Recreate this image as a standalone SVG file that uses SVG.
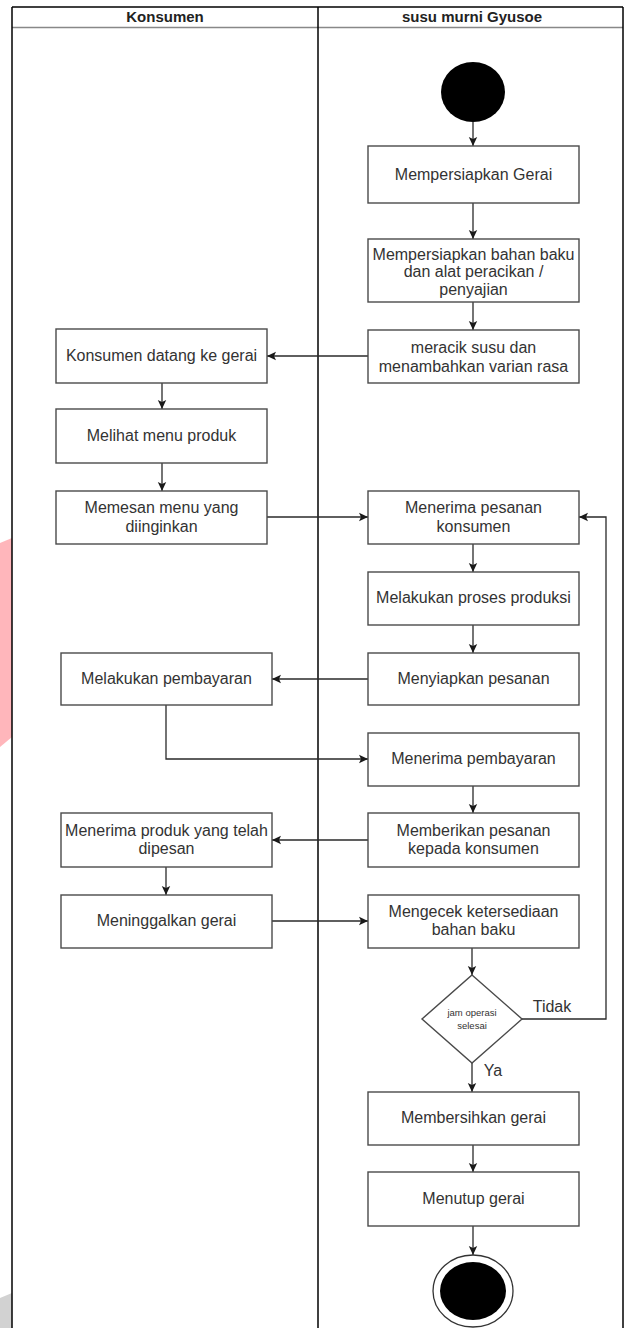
<svg xmlns="http://www.w3.org/2000/svg" width="629" height="1328" viewBox="0 0 629 1328">
<defs>
<style>
.box{fill:#fff;stroke:#4a4a4a;stroke-width:1.4}
.t{font-family:"Liberation Sans",Arial,sans-serif;font-size:16px;fill:#333;text-anchor:middle}
.h{font-family:"Liberation Sans",Arial,sans-serif;font-size:15px;font-weight:bold;fill:#222;text-anchor:middle}
.c{fill:none;stroke:#2a2a2a;stroke-width:1.3}
.lane{fill:none;stroke:#000;stroke-width:1.5}
</style>
<marker id="ah" markerWidth="10" markerHeight="10" refX="9" refY="5" orient="auto" markerUnits="userSpaceOnUse">
<path d="M0,0.8 L9,5 L0,9.2 L2,5 Z" fill="#1a1a1a"/>
</marker>
</defs>
<rect x="0" y="0" width="629" height="1328" fill="#fff"/>
<polygon points="0,543 12,538 12,737 0,747" fill="#ffb6bb"/>
<polygon points="0,1298 12,1293 12,1328 0,1328" fill="#d2d2d2"/>
<g id="lanes">
<line x1="12" y1="27.5" x2="623" y2="27.5" stroke="#888" stroke-width="1.5"/>
<line class="lane" x1="12" y1="7" x2="623" y2="7"/>
<line class="lane" x1="12" y1="7" x2="12" y2="1328"/>
<line class="lane" x1="318" y1="7" x2="318" y2="1328"/>
<line class="lane" x1="623" y1="7" x2="623" y2="1328"/>
<text class="h" x="165" y="22">Konsumen</text>
<text class="h" x="472" y="22">susu murni Gyusoe</text>
</g>
<g id="connectors">
<line class="c" x1="473" y1="122" x2="473" y2="146" marker-end="url(#ah)"/>
<line class="c" x1="473" y1="203" x2="473" y2="239" marker-end="url(#ah)"/>
<line class="c" x1="473" y1="302" x2="473" y2="330" marker-end="url(#ah)"/>
<line class="c" x1="368" y1="356" x2="267" y2="356" marker-end="url(#ah)"/>
<line class="c" x1="162" y1="383" x2="162" y2="409" marker-end="url(#ah)"/>
<line class="c" x1="162" y1="463" x2="162" y2="491" marker-end="url(#ah)"/>
<line class="c" x1="267" y1="517" x2="368" y2="517" marker-end="url(#ah)"/>
<line class="c" x1="473" y1="544" x2="473" y2="572" marker-end="url(#ah)"/>
<line class="c" x1="473" y1="625" x2="473" y2="653" marker-end="url(#ah)"/>
<line class="c" x1="368" y1="679" x2="272" y2="679" marker-end="url(#ah)"/>
<polyline class="c" points="166,705 166,759 368,759" marker-end="url(#ah)"/>
<line class="c" x1="473" y1="786" x2="473" y2="813" marker-end="url(#ah)"/>
<line class="c" x1="368" y1="840" x2="272" y2="840" marker-end="url(#ah)"/>
<line class="c" x1="166" y1="867" x2="166" y2="895" marker-end="url(#ah)"/>
<line class="c" x1="272" y1="921" x2="368" y2="921" marker-end="url(#ah)"/>
<line class="c" x1="472" y1="948" x2="472" y2="975" marker-end="url(#ah)"/>
<polyline class="c" points="522,1019 606,1019 606,517 579,517" marker-end="url(#ah)"/>
<line class="c" x1="472" y1="1063" x2="472" y2="1092" marker-end="url(#ah)"/>
<line class="c" x1="473" y1="1145" x2="473" y2="1172" marker-end="url(#ah)"/>
<line class="c" x1="473" y1="1226" x2="473" y2="1255" marker-end="url(#ah)"/>
<text class="t" x="552" y="1012">Tidak</text>
<text class="t" x="493" y="1076">Ya</text>
</g>
<g id="start"><ellipse cx="473" cy="92" rx="32" ry="30" fill="#000"/></g>
<g id="r1"><rect class="box" x="368" y="146" width="211" height="57"/><text class="t" x="473.5" y="180">Mempersiapkan Gerai</text></g>
<g id="r2"><rect class="box" x="368" y="239" width="211" height="63"/><text class="t" x="473.5" y="260">Mempersiapkan bahan baku</text><text class="t" x="473.5" y="277">dan alat peracikan /</text><text class="t" x="473.5" y="295">penyajian</text></g>
<g id="r3"><rect class="box" x="368" y="330" width="211" height="53"/><text class="t" x="473.5" y="353">meracik susu dan</text><text class="t" x="473.5" y="372">menambahkan varian rasa</text></g>
<g id="l1"><rect class="box" x="56" y="329" width="211" height="54"/><text class="t" x="161.5" y="361">Konsumen datang ke gerai</text></g>
<g id="l2"><rect class="box" x="56" y="409" width="211" height="54"/><text class="t" x="161.5" y="441">Melihat menu produk</text></g>
<g id="l3"><rect class="box" x="56" y="491" width="211" height="53"/><text class="t" x="161.5" y="513">Memesan menu yang</text><text class="t" x="161.5" y="532">diinginkan</text></g>
<g id="r4"><rect class="box" x="368" y="491" width="211" height="53"/><text class="t" x="473.5" y="513">Menerima pesanan</text><text class="t" x="473.5" y="532">konsumen</text></g>
<g id="r5"><rect class="box" x="368" y="572" width="211" height="53"/><text class="t" x="473.5" y="603">Melakukan proses produksi</text></g>
<g id="r6"><rect class="box" x="368" y="653" width="211" height="52"/><text class="t" x="473.5" y="684">Menyiapkan pesanan</text></g>
<g id="l4"><rect class="box" x="61" y="653" width="211" height="52"/><text class="t" x="166.5" y="684">Melakukan pembayaran</text></g>
<g id="r7"><rect class="box" x="368" y="733" width="211" height="53"/><text class="t" x="473.5" y="764">Menerima pembayaran</text></g>
<g id="r8"><rect class="box" x="368" y="813" width="211" height="54"/><text class="t" x="473.5" y="836">Memberikan pesanan</text><text class="t" x="473.5" y="854">kepada konsumen</text></g>
<g id="l5"><rect class="box" x="61" y="813" width="211" height="54"/><text class="t" x="166.5" y="836">Menerima produk yang telah</text><text class="t" x="166.5" y="854">dipesan</text></g>
<g id="l6"><rect class="box" x="61" y="895" width="211" height="53"/><text class="t" x="166.5" y="926">Meninggalkan gerai</text></g>
<g id="r9"><rect class="box" x="368" y="895" width="211" height="53"/><text class="t" x="473.5" y="917">Mengecek ketersediaan</text><text class="t" x="473.5" y="935">bahan baku</text></g>
<g id="decision"><polygon class="box" points="472,975 522,1019 472,1063 422,1019" stroke-width="2" stroke="#111"/><text class="t" x="472" y="1016" style="font-size:9.5px">jam operasi</text><text class="t" x="472" y="1029" style="font-size:9.5px">selesai</text></g>
<g id="r10"><rect class="box" x="368" y="1092" width="211" height="53"/><text class="t" x="473.5" y="1123">Membersihkan gerai</text></g>
<g id="r11"><rect class="box" x="368" y="1172" width="211" height="54"/><text class="t" x="473.5" y="1204">Menutup gerai</text></g>
<g id="end"><ellipse cx="473" cy="1291" rx="40" ry="36" fill="#fff" stroke="#333" stroke-width="1.3"/><ellipse cx="473" cy="1291" rx="33" ry="29" fill="#000"/></g>
</svg>
